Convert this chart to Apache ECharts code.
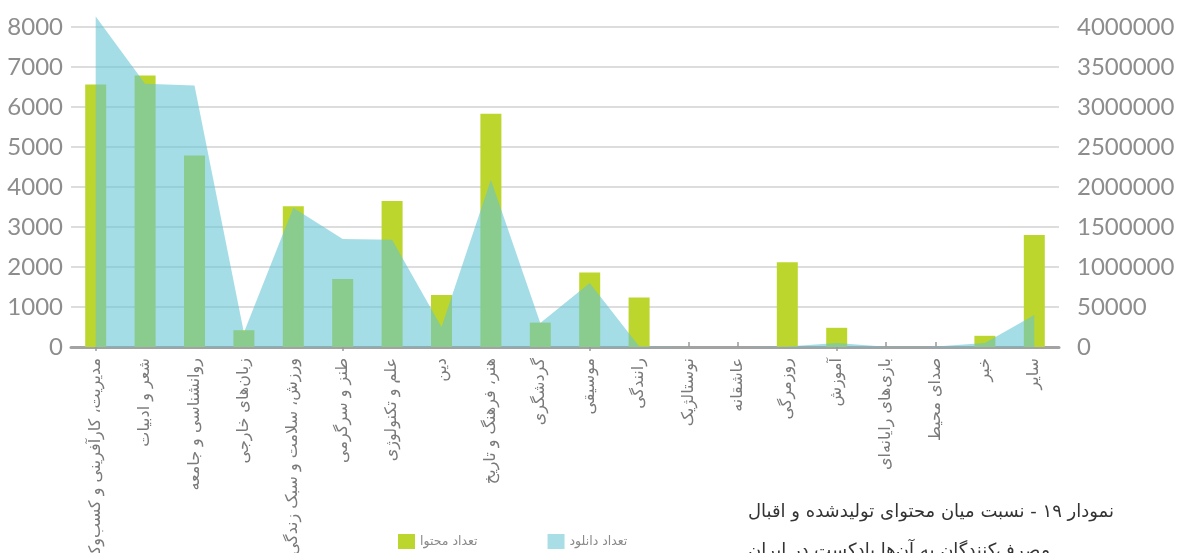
<!DOCTYPE html>
<html>
<head>
<meta charset="utf-8">
<script src="https://cdn.jsdelivr.net/npm/echarts@6/dist/echarts.min.js"></script>
<style>
  html, body { margin: 0; padding: 0; background: #ffffff; }
  #chart { width: 1178px; height: 553px; }
</style>
</head>
<body>
<div id="chart"></div>
<script>
// Podcast categories
const categories = [
  'مدیریت، کارآفرینی و کسب‌وکار',
  'شعر و ادبیات',
  'روانشناسی و جامعه',
  'زبان‌های خارجی',
  'ورزش، سلامت و سبک زندگی',
  'طنز و سرگرمی',
  'علم و تکنولوژی',
  'دین',
  'هنر، فرهنگ و تاریخ',
  'گردشگری',
  'موسیقی',
  'رانندگی',
  'نوستالژیک',
  'عاشقانه',
  'روزمرگی',
  'آموزش',
  'بازی‌های رایانه‌ای',
  'صدای محیط',
  'خبر',
  'سایر'
];

// Number of produced items per category (left axis)
const contentCount = [
  6560, 6790, 4790, 420, 3520, 1700, 3650, 1300, 5830, 610,
  1860, 1240, 0, 0, 2120, 480, 0, 0, 280, 2800
];

// Number of downloads per category (right axis)
const downloadCount = [
  4130000, 3290000, 3270000, 180000, 1740000, 1350000, 1340000, 250000, 2090000, 300000,
  800000, 10000, 0, 0, 5000, 50000, 4000, 5000, 50000, 400000
];

// Tick labels
const leftTickLabels = ['0', '1000', '2000', '3000', '4000', '5000', '6000', '7000', '8000'];
const rightTickLabels = ['0', '50000', '1000000', '1500000', '2000000', '2500000', '3000000', '3500000', '4000000'];

const seriesNames = ['تعداد محتوا', 'تعداد دانلود'];
const titleLines = [
  'نمودار ۱۹ - نسبت میان محتوای تولیدشده و اقبال',
  'مصرف‌کنندگان به آن‌ها پادکست در ایران'
];

const faFont = 'DejaVu Sans';
const numFont = 'Lato';
const barColor = '#bdd62e';
const areaColor = 'rgba(100, 196, 212, 0.58)';
const areaLegendColor = '#a9dee7';

const chart = echarts.init(document.getElementById('chart'), null, { renderer: 'canvas' });

chart.setOption({
  animation: false,
  backgroundColor: '#ffffff',
  grid: { left: 71, right: 119, top: 27, bottom: 206, containLabel: false, outerBoundsMode: 'none' },
  legend: {
    left: 393,
    top: 529,
    itemWidth: 17,
    itemHeight: 15,
    itemGap: 70,
    icon: 'rect',
    textStyle: { fontFamily: faFont, fontSize: 12.5, color: '#8a8a8a' },
    data: [
      { name: seriesNames[0], itemStyle: { color: barColor } },
      { name: seriesNames[1], itemStyle: { color: areaLegendColor, opacity: 1 } }
    ]
  },
  graphic: [
    {
      type: 'text',
      left: 748,
      top: 503,
      style: { text: titleLines[0], fontFamily: faFont, fontSize: 18, fill: '#333333' }
    },
    {
      type: 'text',
      left: 748,
      top: 542,
      style: { text: titleLines[1], fontFamily: faFont, fontSize: 18, fill: '#333333' }
    }
  ],
  xAxis: [
    {
      type: 'category',
      data: categories,
      boundaryGap: true,
      axisLine: { show: true, lineStyle: { color: '#a3a3a3', width: 3 } },
      axisTick: { show: true, inside: true, alignWithLabel: true, length: 5, lineStyle: { color: '#9a9a9a', width: 1.5 } },
      axisLabel: {
        rotate: 90,
        interval: 0,
        margin: 11,
        fontFamily: faFont,
        fontSize: 16,
        color: '#7a7a7a'
      },
      splitLine: { show: false }
    },
    {
      type: 'category',
      data: categories,
      position: 'bottom',
      offset: 6,
      boundaryGap: true,
      axisLine: { show: false },
      axisTick: { show: true, alignWithLabel: true, length: 4, lineStyle: { color: '#9a9a9a', width: 1.5 } },
      axisLabel: { show: false },
      splitLine: { show: false }
    }
  ],
  yAxis: [
    {
      type: 'value',
      min: 0,
      max: 8000,
      interval: 1000,
      axisLine: { show: false },
      axisTick: { show: false },
      axisLabel: {
        margin: 8,
        fontFamily: numFont,
        fontSize: 24,
        color: '#8d8d8d',
        formatter: (v) => leftTickLabels[Math.round(v / 1000)]
      },
      splitLine: { show: true, lineStyle: { color: '#d2d2d2', width: 1.5 } }
    },
    {
      type: 'value',
      min: 0,
      max: 4000000,
      interval: 500000,
      position: 'right',
      axisLine: { show: false },
      axisTick: { show: false },
      axisLabel: {
        margin: 18,
        fontFamily: numFont,
        fontSize: 24,
        color: '#8d8d8d',
        formatter: (v) => rightTickLabels[Math.round(v / 500000)]
      },
      splitLine: { show: false }
    }
  ],
  series: [
    {
      name: seriesNames[0],
      type: 'bar',
      xAxisIndex: 0,
      yAxisIndex: 0,
      barWidth: 21,
      z: 2,
      itemStyle: { color: barColor },
      data: contentCount
    },
    {
      name: seriesNames[1],
      type: 'line',
      xAxisIndex: 0,
      yAxisIndex: 1,
      z: 3,
      clip: false,
      symbol: 'none',
      showSymbol: false,
      lineStyle: { width: 0, opacity: 0 },
      itemStyle: { color: areaLegendColor },
      areaStyle: { color: areaColor, opacity: 1 },
      data: downloadCount
    }
  ]
});
</script>
</body>
</html>
